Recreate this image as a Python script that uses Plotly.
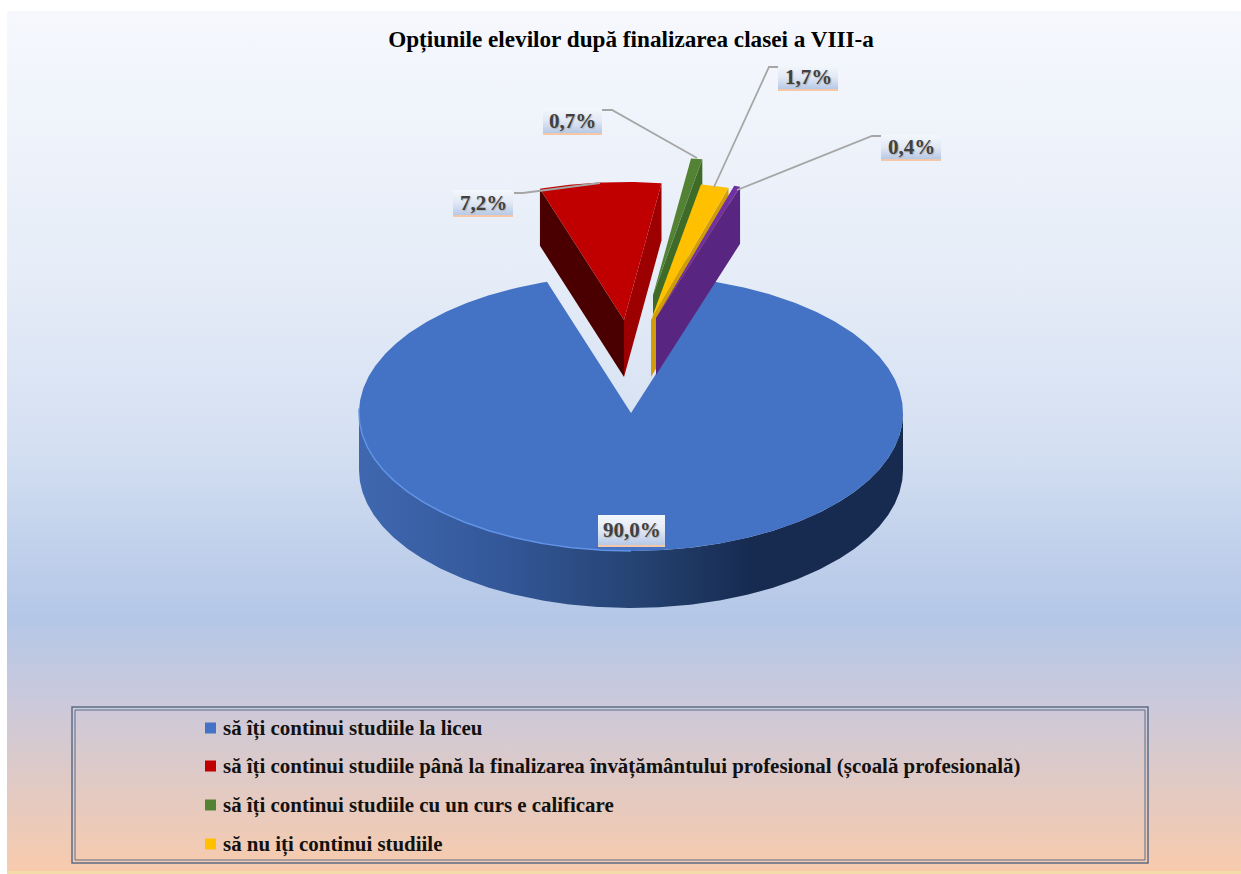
import math
import plotly.graph_objects as go

# ---- data ----
categories = [
    "să îți continui studiile la liceu",
    "să îți continui studiile până la finalizarea învățământului profesional (școală profesională)",
    "să îți continui studiile cu un curs e calificare",
    "să nu iți continui studiile",
]
slice_names = ["liceu", "profesional", "calificare", "nu continuă", "altele"]
values = [90.0, 7.2, 0.7, 1.7, 0.4]
value_labels = ["90,0%", "7,2%", "0,7%", "1,7%", "0,4%"]
title_text = "Opțiunile elevilor după finalizarea clasei a VIII-a"

# ---- geometry / style ----
W, H = 1241, 874
PANEL_LEFT = 7
RX, RY, DEPTH = 272, 138, 57
START_DEG = 18
apex = [(631, 413), (624, 320), (653, 295), (651, 320), (656, 318)]
top_col = ["#4472C4", "#C00000", "#548235", "#FFC000", "#7030A0"]
face_col = [None, "#9C0000", "#3F6B28", "#D19E0A", "#582680"]
left_face_col = [None, "#4A0000", None, None, None]

fig = go.Figure()


def vgrad(stops):
    # stops are listed top to bottom; the y axis is reversed, so flip them for the gradient
    return dict(type="vertical", colorscale=[[1 - p, c] for p, c in reversed(stops)])


def poly(xs, ys, name, color=None, gradient=None, line=None):
    kw = dict(fillcolor=color) if color else dict(fillgradient=gradient)
    fig.add_trace(go.Scatter(
        x=xs, y=ys, mode="lines", fill="toself", name=name, showlegend=False,
        hoverinfo="skip", line=line or dict(width=0), **kw))


def ell(c, deg, dz=0):
    t = math.radians(deg)
    return c[0] + RX * math.sin(t), c[1] - RY * math.cos(t) + dz


def arc(c, a, b, dz=0, n=None):
    n = n or max(2, int(abs(b - a)) * 2)
    pts = [ell(c, a + (b - a) * i / n, dz) for i in range(n + 1)]
    return [p[0] for p in pts], [p[1] for p in pts]


# background panel
poly([PANEL_LEFT, W, W, PANEL_LEFT, PANEL_LEFT], [11, 11, 871, 871, 11], "fond", gradient=vgrad(
    [[0, "#F6F8FD"], [0.3, "#E6EDF8"], [0.5, "#D5E0F2"], [0.705, "#B4C7E7"],
     [0.8, "#CAC9DC"], [1, "#F8CBAD"]]))
poly([PANEL_LEFT, W, W, PANEL_LEFT, PANEL_LEFT], [871, 871, H, H, 871], "bandă", color="#F3DCA8")

# angular extents from the values
angles = []
a = START_DEG
for v in values:
    angles.append((a, a + v * 3.6))
    a += v * 3.6

# main slice wall + top
wx, wy = arc(apex[0], 90, 270)
bx, by = arc(apex[0], 270, 90, DEPTH)
poly(wx + bx, wy + by, slice_names[0] + " perete", gradient=dict(
    type="horizontal", colorscale=[
        [0, "#3F68B0"], [0.25, "#34589A"], [0.5, "#264474"], [0.72, "#172B50"], [1, "#172B50"]]))
tx, ty = arc(apex[0], *angles[0])
poly([apex[0][0]] + tx + [apex[0][0]], [apex[0][1]] + ty + [apex[0][1]], slice_names[0], color=top_col[0])
ex, ey = arc(apex[0], 180, 272)
fig.add_trace(go.Scatter(x=ex, y=ey, mode="lines", line=dict(color="#6193E6", width=1.5),
                         showlegend=False, hoverinfo="skip"))

# exploded slices, back to front
for i in [2, 3, 4, 1]:
    c = apex[i]
    s, e = angles[i]
    ox, oy = ell(c, e)
    poly([c[0], ox, ox, c[0], c[0]], [c[1], oy, oy + DEPTH, c[1] + DEPTH, c[1]],
         slice_names[i] + " față", color=face_col[i])
    if left_face_col[i]:
        lx, ly = ell(c, s)
        poly([c[0], lx, lx, c[0], c[0]], [c[1], ly, ly + DEPTH, c[1] + DEPTH, c[1]],
             slice_names[i] + " stânga", color=left_face_col[i])
    tx, ty = arc(c, s, e, n=40)
    poly([c[0]] + tx + [c[0]], [c[1]] + ty + [c[1]], slice_names[i], color=top_col[i])

# leader lines
leaders = {1: ([514, 523, 600], [193, 193, 183]),
           2: ([602, 612, 697], [110, 110, 158]),
           3: ([778, 769, 714], [67, 67, 187]),
           4: ([881, 872, 737], [136, 136, 190])}
for i, (lx, ly) in leaders.items():
    fig.add_trace(go.Scatter(x=lx, y=ly, mode="lines", line=dict(color="#A6A6A6", width=1.8),
                             showlegend=False, hoverinfo="skip"))

# value labels
boxes = [(598, 515, 665, 547), (453, 190, 513, 217), (543, 108, 602, 135),
         (778, 65, 838, 91), (881, 135, 941, 161)]
annos = []
for (x0, y0, x1, y1), lab, nm in zip(boxes, value_labels, slice_names):
    poly([x0, x1, x1, x0, x0], [y0, y0, y1 - 2, y1 - 2, y0], nm + " etichetă", gradient=vgrad(
        [[0, "#F4F7FC"], [0.5, "#E2E9F5"], [1, "#B7C9E6"]]))
    poly([x0, x1, x1, x0, x0], [y1 - 2, y1 - 2, y1, y1, y1 - 2], nm + " bandă", color="#F4C7A8")
    annos.append(dict(x=(x0 + x1) / 2, y=(y0 + y1) / 2 - 1, text="<b>%s</b>" % lab, showarrow=False,
                      xanchor="center", yanchor="middle",
                      font=dict(family="Liberation Serif", size=21, color="#404040",
                                shadow="1px 1px 1px #b0b0b0")))

# legend
LEFT, TOP, RIGHT, BOTTOM = 72, 707, 1148, 863
for d, w in ((0, 1.5), (3, 1)):
    fig.add_shape(type="rect", x0=LEFT + d, x1=RIGHT - d, y0=TOP + d, y1=BOTTOM - d,
                  line=dict(color="#5C6C88", width=w), fillcolor="rgba(0,0,0,0)")
legend_y = [728, 766, 805, 844]
fig.add_trace(go.Scatter(
    x=[210.5] * 4, y=legend_y, mode="markers", showlegend=False, hoverinfo="skip",
    marker=dict(symbol="square", size=11, color=top_col[:4])))
for cat, y in zip(categories, legend_y):
    annos.append(dict(x=221, y=y, text="<b>%s</b>" % cat, showarrow=False, xanchor="left",
                      yanchor="middle", font=dict(family="Liberation Serif", size=20.9, color="#111111")))

fig.update_layout(
    width=W, height=H, margin=dict(l=0, r=0, t=0, b=0),
    paper_bgcolor="white", plot_bgcolor="white", showlegend=False,
    title=dict(text="<b>%s</b>" % title_text, x=631 / W, xanchor="center",
               y=1 - 39 / H, yanchor="middle",
               font=dict(family="Liberation Serif", size=23.2, color="#000000")),
    xaxis=dict(range=[0, W], visible=False, fixedrange=True),
    yaxis=dict(range=[H, 0], visible=False, fixedrange=True),
    annotations=annos,
)
fig.write_html("out.html", config=dict(displayModeBar=False),
               post_script="document.body.style.margin='0';document.documentElement.style.overflow='hidden';")
